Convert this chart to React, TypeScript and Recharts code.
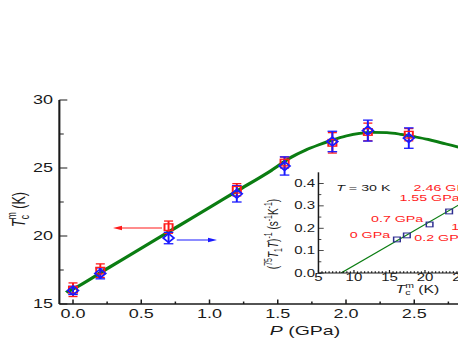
import React from 'react';
import { ComposedChart, Scatter, Line, XAxis, YAxis, ErrorBar, ReferenceLine } from 'recharts';

// the source figure is stretched horizontally, so everything is drawn narrow and scaled in x
const SX = 1.5;
const INK = '#1a1a1a';
const RED = '#ff1a1a';
const BLUE = '#1a1aff';
const GREEN = '#0b7d12';
const NAVY = '#2d2d90';

// main panel: Tc^m (red squares) and 1/T1T on the matched scale (blue diamonds) vs pressure
const redPts = [
  { p: 0, tc: 16.05, err: 0.5 },
  { p: 0.2, tc: 17.45, err: 0.5 },
  { p: 0.7, tc: 20.65, err: 0.45 },
  { p: 1.2, tc: 23.4, err: 0.45 },
  { p: 1.55, tc: 25.4, err: 0.4 },
  { p: 1.9, tc: 26.85, err: 0.75 },
  { p: 2.16, tc: 27.65, err: 0.65 },
  { p: 2.46, tc: 27.45, err: 0.45 },
];
const bluePts = [
  { p: 0, tc: 16.0, err: 0.3 },
  { p: 0.2, tc: 17.25, err: 0.4 },
  { p: 0.7, tc: 19.85, err: 0.42 },
  { p: 1.2, tc: 23.1, err: 0.6 },
  { p: 1.55, tc: 25.15, err: 0.67 },
  { p: 1.9, tc: 26.95, err: 0.75 },
  { p: 2.16, tc: 27.75, err: 0.77 },
  { p: 2.46, tc: 27.2, err: 0.75 },
];
const guideCurve = [
  { p: -0.05, tc: 15.85 }, { p: 0, tc: 16.1 }, { p: 0.25, tc: 17.6 }, { p: 0.5, tc: 19.1 },
  { p: 0.75, tc: 20.6 }, { p: 1.0, tc: 22.1 }, { p: 1.2, tc: 23.3 }, { p: 1.45, tc: 24.8 },
  { p: 1.6, tc: 25.8 }, { p: 1.7, tc: 26.3 }, { p: 1.8, tc: 26.7 }, { p: 1.9, tc: 27.05 },
  { p: 2.0, tc: 27.35 }, { p: 2.1, tc: 27.55 }, { p: 2.2, tc: 27.62 }, { p: 2.3, tc: 27.6 },
  { p: 2.4, tc: 27.48 }, { p: 2.5, tc: 27.3 }, { p: 2.6, tc: 27.1 }, { p: 2.7, tc: 26.85 },
  { p: 2.8, tc: 26.6 }, { p: 2.9, tc: 26.3 }, { p: 3.0, tc: 26.0 },
];
const arrows = [
  { color: RED, from: { p: 0.652, tc: 20.59 }, to: { p: 0.293, tc: 20.59 } },
  { color: BLUE, from: { p: 0.76, tc: 19.71 }, to: { p: 1.055, tc: 19.71 } },
];
const pTicks = [0, 0.25, 0.5, 0.75, 1.0, 1.25, 1.5, 1.75, 2.0, 2.25, 2.5, 2.75, 3.0];
const tcTicks = [15, 17.5, 20, 22.5, 25, 27.5, 30];

// inset: (75T1T)^-1 vs Tc^m at T = 30 K
const insetPts = [
  { tc: 16.05, r: 0.15 },
  { tc: 17.45, r: 0.168 },
  { tc: 20.65, r: 0.217 },
  { tc: 23.4, r: 0.275 },
];
const insetFit = [
  { tc: 8.2, r: 0 },
  { tc: 25, r: 0.309 },
];
const insetNotes = [
  { tc: 7.5, r: 0.366, text: 'T = 30 K', color: INK },
  { tc: 18.4, r: 0.368, text: '2.46 GPa', color: RED },
  { tc: 16.4, r: 0.322, text: '1.55 GPa', color: RED },
  { tc: 12.4, r: 0.2265, text: '0.7 GPa', color: RED },
  { tc: 23.7, r: 0.192, text: '1.2 GPa', color: RED },
  { tc: 9.4, r: 0.155, text: '0 GPa', color: RED },
  { tc: 18.5, r: 0.143, text: '0.2 GPa', color: RED },
];
const insetTcTicks = [
  5, 5.5, 6, 6.5, 7, 7.5, 8, 8.5, 9, 9.5, 10, 10.5, 11, 11.5, 12, 12.5, 13, 13.5, 14, 14.5,
  15, 15.5, 16, 16.5, 17, 17.5, 18, 18.5, 19, 19.5, 20, 20.5, 21, 21.5, 22, 22.5, 23, 23.5, 24, 24.5, 25,
];
const insetRTicks = [0, 0.05, 0.1, 0.15, 0.2, 0.25, 0.3, 0.35, 0.4];

type TickOpts = {
  side: 'bottom' | 'top' | 'left';
  step: number;
  len: number;
  fmt?: (v: number) => string;
  size?: number;
  gap?: number;
  width?: number;
};

const makeTick = (o: TickOpts) => (props: any) => {
  const { x, y } = props;
  const v = props.payload.value as number;
  const major = Math.abs(v / o.step - Math.round(v / o.step)) < 1e-6;
  const l = major ? o.len : o.len * 0.55;
  const sw = o.width ?? 1;
  if (o.side === 'left') {
    return (
      <g>
        <line x1={x} x2={x + l} y1={y} y2={y} stroke={INK} strokeWidth={sw} />
        {major && o.fmt && (
          <text x={x - (o.gap ?? 3)} y={y} dy="0.36em" textAnchor="end" fontSize={o.size} fill={INK}>
            {o.fmt(v)}
          </text>
        )}
      </g>
    );
  }
  const dir = o.side === 'bottom' ? -1 : 1;
  return (
    <g>
      <line x1={x} x2={x} y1={y} y2={y + dir * l} stroke={INK} strokeWidth={sw} />
      {major && o.fmt && (
        <text x={x} y={y + (o.gap ?? 12)} textAnchor="middle" fontSize={o.size} fill={INK}>
          {o.fmt(v)}
        </text>
      )}
    </g>
  );
};

const RedSquare = (p: any) => (
  <rect x={p.cx - 2.7} y={p.cy - 3.3} width={5.4} height={6.6} fill="none" stroke={RED} strokeWidth={1.3} />
);
const BlueDiamond = (p: any) => (
  <polygon
    points={`${p.cx - 3.6},${p.cy} ${p.cx},${p.cy - 4.4} ${p.cx + 3.6},${p.cy} ${p.cx},${p.cy + 4.4}`}
    fill="none"
    stroke={BLUE}
    strokeWidth={1.4}
  />
);
const NavySquare = (p: any) => (
  <rect x={p.cx - 2.2} y={p.cy - 2.4} width={4.4} height={4.8} fill="none" stroke={NAVY} strokeWidth={1} />
);
const Note = (p: any) => {
  const t: string = p.payload.text;
  const italic = t.startsWith('T ');
  return (
    <text x={p.cx} y={p.cy} fontSize={9.5} fill={p.payload.color}>
      {italic ? (
        <>
          <tspan fontStyle="italic">T</tspan>
          {t.slice(1)}
        </>
      ) : (
        t
      )}
    </text>
  );
};

const arrowShape = (color: string) => (p: any) => {
  const { x1, y1, x2, y2 } = p;
  const d = x2 > x1 ? 1 : -1;
  return (
    <g>
      <line x1={x1} y1={y1} x2={x2 - d * 3} y2={y2} stroke={color} strokeWidth={1} />
      <polygon points={`${x2},${y2} ${x2 - d * 6},${y2 - 2.3} ${x2 - d * 6},${y2 + 2.3}`} fill={color} />
    </g>
  );
};

function MainChart() {
  return (
    <ComposedChart width={340} height={338} margin={{ top: 100, right: 18.33, bottom: 0, left: 0 }}>
      <XAxis
        type="number"
        dataKey="p"
        domain={[-0.1, 3.0]}
        allowDataOverflow
        ticks={pTicks}
        interval={0}
        height={34}
        tickSize={0}
        tickMargin={0}
        tickLine={false}
        axisLine={{ stroke: INK, strokeWidth: 1.4 }}
        tick={makeTick({ side: 'bottom', step: 0.5, len: 4.5, fmt: v => v.toFixed(1), size: 12, gap: 13.8 })}
      />
      <XAxis
        xAxisId="top"
        orientation="top"
        type="number"
        domain={[-0.1, 3.0]}
        allowDataOverflow
        ticks={pTicks}
        interval={0}
        height={0}
        tickSize={0}
        tickMargin={0}
        tickLine={false}
        axisLine={{ stroke: INK, strokeWidth: 1.2 }}
        tick={makeTick({ side: 'top', step: 0.5, len: 4.5 })}
      />
      <YAxis
        type="number"
        dataKey="tc"
        domain={[15, 30]}
        allowDataOverflow
        ticks={tcTicks}
        interval={0}
        width={39.57}
        tickSize={0}
        tickMargin={0}
        tickLine={false}
        axisLine={{ stroke: INK, strokeWidth: 1.4 }}
        tick={makeTick({ side: 'left', step: 5, len: 5.3, fmt: v => String(v), size: 12, gap: 4.2 })}
      />
      <Line data={guideCurve} dataKey="tc" type="monotone" stroke={GREEN} strokeWidth={2.8} dot={false} isAnimationActive={false} />
      <Scatter data={redPts} dataKey="tc" shape={RedSquare} isAnimationActive={false}>
        <ErrorBar dataKey="err" direction="y" width={3} stroke={RED} strokeWidth={1.3} />
      </Scatter>
      <Scatter data={bluePts} dataKey="tc" shape={BlueDiamond} isAnimationActive={false}>
        <ErrorBar dataKey="err" direction="y" width={3.2} stroke={BLUE} strokeWidth={1.3} />
      </Scatter>
      {arrows.map((a, i) => (
        <ReferenceLine
          key={i}
          segment={[{ x: a.from.p, y: a.from.tc }, { x: a.to.p, y: a.to.tc }]}
          shape={arrowShape(a.color)}
        />
      ))}
    </ComposedChart>
  );
}

function InsetChart() {
  return (
    <ComposedChart width={150} height={150} margin={{ top: 22.3, right: 13, bottom: 0, left: 0 }}>
      <XAxis
        type="number"
        dataKey="tc"
        domain={[5, 25]}
        allowDataOverflow
        ticks={insetTcTicks}
        interval={0}
        height={27}
        tickSize={0}
        tickMargin={0}
        tickLine={false}
        axisLine={{ stroke: INK, strokeWidth: 1 }}
        tick={makeTick({ side: 'bottom', step: 5, len: 3, fmt: v => String(v), size: 10, gap: 8, width: 0.8 })}
      />
      <XAxis
        xAxisId="top"
        orientation="top"
        type="number"
        domain={[5, 25]}
        allowDataOverflow
        ticks={insetTcTicks}
        interval={0}
        height={0}
        tickSize={0}
        tickMargin={0}
        tickLine={false}
        axisLine={{ stroke: INK, strokeWidth: 1 }}
        tick={makeTick({ side: 'top', step: 5, len: 3, width: 0.8 })}
      />
      <YAxis
        type="number"
        dataKey="r"
        domain={[0, 0.45]}
        allowDataOverflow
        ticks={insetRTicks}
        interval={0}
        width={42.3}
        tickSize={0}
        tickMargin={0}
        tickLine={false}
        axisLine={{ stroke: INK, strokeWidth: 1 }}
        tick={makeTick({ side: 'left', step: 0.1, len: 3.5, fmt: v => v.toFixed(1), size: 10, gap: 2.3, width: 0.8 })}
      />
      <Line data={insetFit} dataKey="r" type="linear" stroke={GREEN} strokeWidth={1} dot={false} isAnimationActive={false} />
      <Scatter data={insetPts} dataKey="r" shape={NavySquare} isAnimationActive={false} />
      <Scatter data={insetNotes} dataKey="r" shape={Note} isAnimationActive={false} />
    </ComposedChart>
  );
}

function Titles() {
  return (
    <svg width={340} height={338} style={{ position: 'absolute', left: 0, top: 0, pointerEvents: 'none' }}>
      <text transform="translate(16.5,209.5) rotate(-90)" textAnchor="middle" fontSize={12.5} fill={INK}>
        <tspan fontStyle="italic">T</tspan>
        <tspan fontSize={8.5} dy={3}>c</tspan>
        <tspan fontSize={8.5} dx={-4.2} dy={-9}>m</tspan>
        <tspan dy={6}> (K)</tspan>
      </text>
      <text x={203.3} y={335} textAnchor="middle" fontSize={13} fill={INK}>
        <tspan fontStyle="italic">P</tspan> (GPa)
      </text>
      <text transform="translate(185.3,234) rotate(-90)" textAnchor="middle" fontSize={10} fill={INK}>
        (<tspan fontSize={7} dy={-4}>75</tspan>
        <tspan fontStyle="italic" dy={4}>T</tspan>
        <tspan fontSize={7} dy={2.5}>1</tspan>
        <tspan fontStyle="italic" dy={-2.5}>T</tspan>)
        <tspan fontSize={7} dy={-4}>-1</tspan>
        <tspan dy={4}> (s</tspan>
        <tspan fontSize={7} dy={-4}>-1</tspan>
        <tspan dy={4}>K</tspan>
        <tspan fontSize={7} dy={-4}>-1</tspan>
        <tspan dy={4}>)</tspan>
      </text>
      <text x={278.3} y={293} textAnchor="middle" fontSize={10.5} fill={INK}>
        <tspan fontStyle="italic">T</tspan>
        <tspan fontSize={7} dy={2.5}>c</tspan>
        <tspan fontSize={7} dx={-3.5} dy={-7}>m</tspan>
        <tspan dy={4.5}> (K)</tspan>
      </text>
    </svg>
  );
}

export default function App() {
  return (
    <div
      style={{
        position: 'absolute',
        left: 0,
        top: 0,
        width: 458,
        height: 338,
        overflow: 'hidden',
        background: '#fff',
        fontFamily: '"Liberation Sans", Arial, sans-serif',
      }}
    >
      <div style={{ position: 'relative', width: 340, height: 338, transform: `scaleX(${SX})`, transformOrigin: '0 0' }}>
        <MainChart />
        <div style={{ position: 'absolute', left: 170, top: 150 }}>
          <InsetChart />
        </div>
        <Titles />
      </div>
    </div>
  );
}
